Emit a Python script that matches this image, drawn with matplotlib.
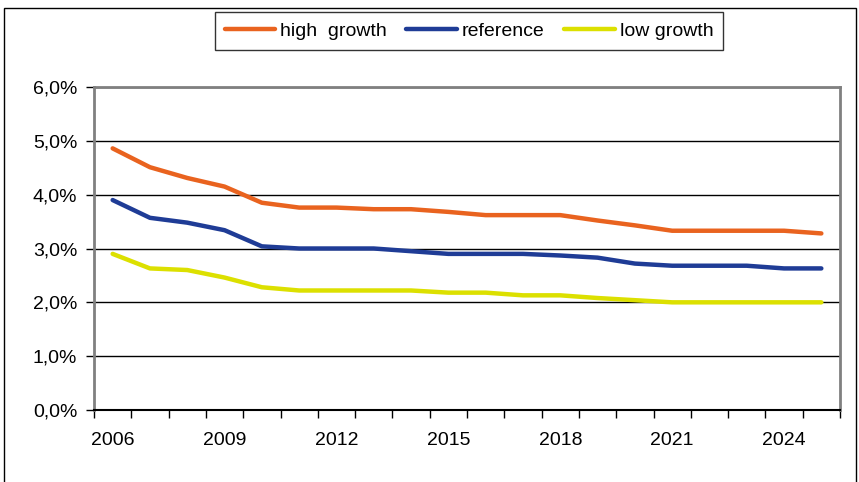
import matplotlib.pyplot as plt
from matplotlib.patches import Rectangle
from matplotlib.ticker import FixedLocator, FuncFormatter, NullFormatter

# DATA
YEARS = list(range(2006, 2026))
HIGH_GROWTH = [4.86, 4.51, 4.31, 4.15, 3.85, 3.76, 3.76, 3.73, 3.73, 3.68,
               3.62, 3.62, 3.62, 3.52, 3.43, 3.33, 3.33, 3.33, 3.33, 3.28]
REFERENCE = [3.90, 3.57, 3.48, 3.34, 3.04, 3.00, 3.00, 3.00, 2.95, 2.90,
             2.90, 2.90, 2.87, 2.83, 2.72, 2.68, 2.68, 2.68, 2.63, 2.63]
LOW_GROWTH = [2.90, 2.63, 2.60, 2.46, 2.28, 2.22, 2.22, 2.22, 2.22, 2.18,
              2.18, 2.13, 2.13, 2.08, 2.04, 2.00, 2.00, 2.00, 2.00, 2.00]
SERIES_NAMES = ["high  growth", "reference", "low growth"]
LABEL_YEARS = [2006, 2009, 2012, 2015, 2018, 2021, 2024]
Y_TICKS = [0, 1, 2, 3, 4, 5, 6]

COLORS = ['#E9631F', '#1F3C96', '#DCE000']

plt.rcParams['font.family'] = ['Liberation Sans', 'DejaVu Sans']
FS = 14

W, H = 859, 482
fig = plt.figure(figsize=(W / 100, H / 100), dpi=100)
ax = fig.add_axes([94 / W, 1 - 410 / H, (840 - 94) / W, (410 - 87) / H])

# outer chart frame
fig.patches.append(Rectangle((4 / W, -0.1), (856 - 4) / W, 1.1 - 8 / H,
                             transform=fig.transFigure, fill=False,
                             edgecolor='black', linewidth=1))

xs = list(range(len(YEARS)))
lines = []
for ys, name, color in zip([HIGH_GROWTH, REFERENCE, LOW_GROWTH], SERIES_NAMES, COLORS):
    ln, = ax.plot(xs, ys, color=color, linewidth=3.2, label=name,
                  solid_capstyle='round', solid_joinstyle='round', zorder=3)
    lines.append(ln)

ax.set_xlim(-0.5, len(YEARS) - 0.5)
ax.set_ylim(0, 6)

# y axis
ax.set_yticks(Y_TICKS)
ax.yaxis.set_major_formatter(FuncFormatter(lambda v, p: ("%.1f%%" % v).replace('.', ',')))
ax.tick_params(axis='y', direction='out', length=6, width=1, labelsize=FS, pad=6)
ax.grid(axis='y', color='black', linewidth=1)
ax.set_axisbelow(True)

# x axis: ticks between categories, labels every third year
ax.xaxis.set_major_locator(FixedLocator([i - 0.5 for i in range(len(YEARS) + 1)]))
ax.xaxis.set_major_formatter(NullFormatter())
ax.xaxis.set_minor_locator(FixedLocator([YEARS.index(y) for y in LABEL_YEARS]))
ax.set_xticklabels([str(y) for y in LABEL_YEARS], minor=True)
ax.tick_params(axis='x', which='major', direction='out', length=6, width=1)
ax.tick_params(axis='x', which='minor', length=0, labelsize=FS, pad=16)

for side in ['left', 'top', 'right']:
    ax.spines[side].set_color('#808080')
    ax.spines[side].set_linewidth(2)
ax.spines['bottom'].set_color('black')
ax.spines['bottom'].set_linewidth(1.5)

leg = fig.legend(handles=lines, loc='center', ncol=3,
                 bbox_to_anchor=(469 / W, 1 - 31 / H), fontsize=FS,
                 frameon=True, fancybox=False, edgecolor='black',
                 handlelength=2.6, handletextpad=0.25, columnspacing=1.0,
                 borderpad=0.5, borderaxespad=0)
leg.get_frame().set_linewidth(1)

fig.savefig('out.png', dpi=100)
